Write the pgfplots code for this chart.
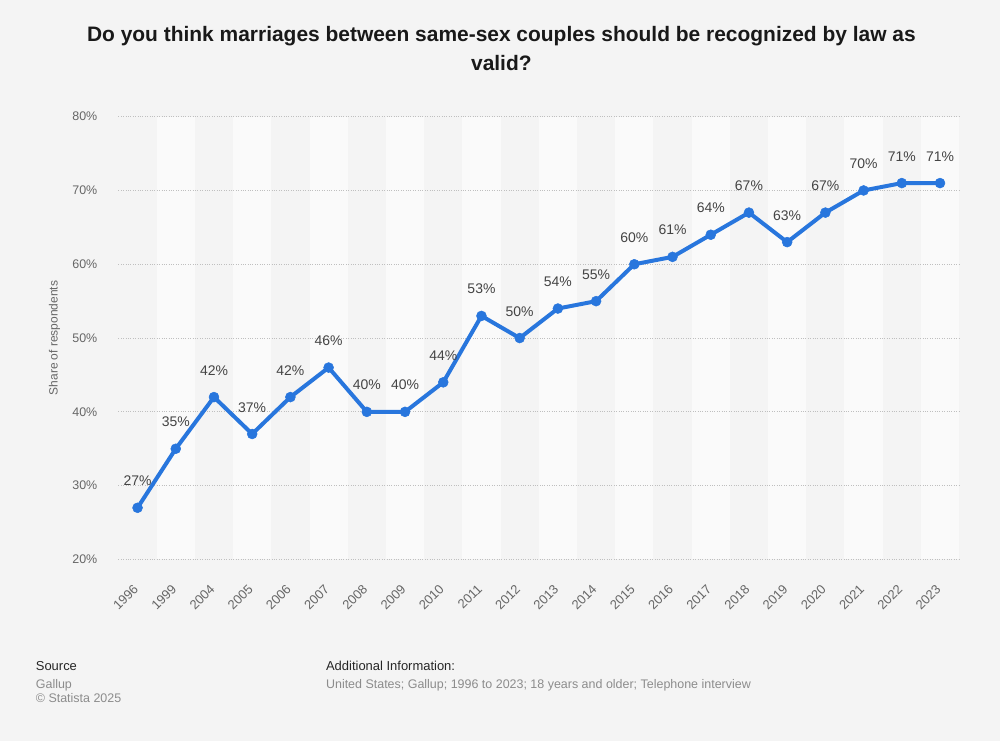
\documentclass[border=0pt]{standalone}
\usepackage{pgfplots}
\pgfplotsset{compat=1.18}
\usepackage{fontspec}
\setmainfont{Liberation Sans}
\definecolor{bg}{HTML}{F4F4F4}
\definecolor{stripe}{HTML}{FAFAFA}
\definecolor{statblue}{HTML}{2876DD}
\definecolor{ticktxt}{HTML}{666666}
\definecolor{lbltxt}{HTML}{444444}

\begin{document}
\pagecolor{bg}
\begin{tikzpicture}
\path (0pt,0pt) rectangle (1000pt,743pt);
\node[font=\fontsize{21}{24}\selectfont\bfseries,text=black!90] at (500pt,707pt) {Do you think marriages between same-sex couples should be recognized by law as};
\node[font=\fontsize{21}{24}\selectfont\bfseries,text=black!90] at (500pt,680pt) {valid?};
\begin{axis}[
  set layers,
  at={(116pt,182pt)}, anchor=south west,
  scale only axis, width=843pt, height=444pt,
  xmin=-0.5, xmax=21.5, ymin=20, ymax=80,
  xtick={0,...,21},
  xticklabels={1996,1999,2004,2005,2006,2007,2008,2009,2010,2011,2012,2013,2014,2015,2016,2017,2018,2019,2020,2021,2022,2023},
  xticklabel style={xshift=-5pt, yshift=-24pt, rotate=45, anchor=north east, inner sep=0pt, font=\fontsize{13}{15}\selectfont, text=ticktxt},
  ytick={20,30,...,80},
  yticklabel={\pgfmathprintnumber{\tick}\%},
  yticklabel style={font=\fontsize{12.5}{14}\selectfont, text=ticktxt, anchor=east, inner sep=0pt, xshift=-21pt},
  /pgf/number format/assume math mode=true,
  axis line style={draw=none},
  major tick length=0pt,
  ymajorgrids, grid style={dotted, draw=black!25, line width=0.8pt},
  ylabel={Share of respondents},
  every axis y label/.style={at={(axis description cs:-0.0759,0.5)}, rotate=90, anchor=center, font=\fontsize{12}{14}\selectfont, text=ticktxt},
  clip=false,
  nodes near coords={\pgfmathprintnumber{\pgfplotspointmeta}\%},
  nodes near coords style={font=\fontsize{14}{16}\selectfont, text=lbltxt, anchor=base, inner sep=0pt, yshift=22pt},
]
\begin{pgfonlayer}{axis background}
\pgfplotsinvokeforeach{1,3,...,21}{
  \fill[stripe] (axis cs:#1-0.5,20) rectangle (axis cs:#1+0.5,80);
}
\end{pgfonlayer}
\addplot[statblue, line width=4pt, line join=round, mark=*, mark size=5pt, mark options={solid, fill=statblue, draw=statblue, line width=0.5pt}] coordinates {
  (0,27) (1,35) (2,42) (3,37) (4,42) (5,46) (6,40) (7,40) (8,44) (9,53) (10,50)
  (11,54) (12,55) (13,60) (14,61) (15,64) (16,67) (17,63) (18,67) (19,70) (20,71) (21,71)
};
\end{axis}
\node[anchor=base west, inner sep=0pt, font=\fontsize{13}{15}\selectfont, text=black!85] at (33pt,71pt) {Source};
\node[anchor=base west, inner sep=0pt, font=\fontsize{12.5}{14}\selectfont, text=black!45] at (33pt,53pt) {Gallup};
\node[anchor=base west, inner sep=0pt, font=\fontsize{12.5}{14}\selectfont, text=black!45] at (33pt,39pt) {\textcopyright\ Statista 2025};
\node[anchor=base west, inner sep=0pt, font=\fontsize{13}{15}\selectfont, text=black!85] at (324pt,71pt) {Additional Information:};
\node[anchor=base west, inner sep=0pt, font=\fontsize{12.5}{14}\selectfont, text=black!45] at (324pt,53pt) {United States; Gallup; 1996 to 2023; 18 years and older; Telephone interview};
\end{tikzpicture}
\end{document}
